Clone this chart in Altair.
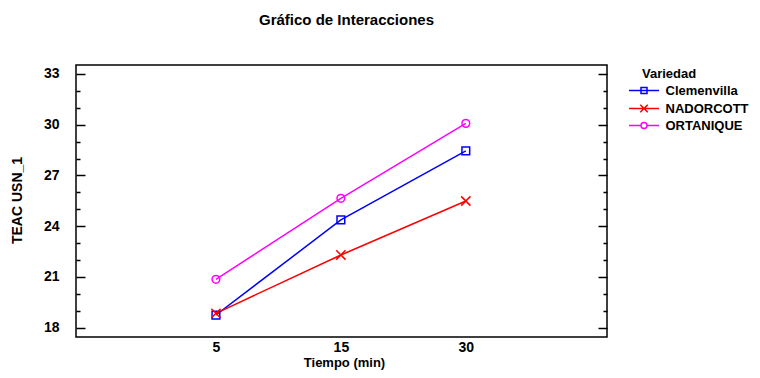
import json
import altair as alt
import pandas as pd

# ---- data ----
tiempos = ["5", "15", "30"]
variedades = ["Clemenvilla", "NADORCOTT", "ORTANIQUE"]
clemenvilla = [18.75, 24.37, 28.45]
nadorcott = [18.85, 22.30, 25.49]
ortanique = [20.86, 25.65, 30.08]
colores = ["#0000FF", "#FF0000", "#FF00FF"]
y_ticks = list(range(18, 34))

series = {"Clemenvilla": clemenvilla, "NADORCOTT": nadorcott, "ORTANIQUE": ortanique}
rows = []
for v in variedades:
    for i, t in enumerate(tiempos):
        rows.append({"Variedad": v, "Tiempo": t, "idx": i, "TEAC": series[v][i]})
df = pd.DataFrame(rows)

FONT = "Liberation Sans"

marker_paths = ["square", "M-1.2,-1.2L1.2,1.2M-1.2,1.2L1.2,-1.2", "circle"]
legend_paths = [
    "M-3,0H3M-0.6,-0.6H0.6V0.6H-0.6Z",
    "M-3,0H3M-0.75,-0.75L0.75,0.75M-0.75,0.75L0.75,-0.75",
    "M-3,0H-0.6M0.6,0H3M-0.6,0A0.6,0.6 0 1,0 0.6,0A0.6,0.6 0 1,0 -0.6,0",
]

y_scale = alt.Scale(domain=[17.45, 33.53], nice=False, zero=False)
x_scale = alt.Scale(domain=[-1.12, 3.13], nice=False, zero=False)

major_test = "datum.value % 3 === 0"
TICK = 9
tick_dash = {"condition": {"test": major_test, "value": [TICK, 0]}, "value": [0, TICK - 4, 4, 0]}

x_axis = alt.Axis(
    values=[0, 1, 2],
    labelExpr=f"{json.dumps(tiempos)}[datum.value]",
    ticks=False, domain=False, grid=False, labelPadding=3,
    title="Tiempo (min)", titleY=29.5, titleX=268, titleBaseline="alphabetic",
    titleFontSize=13,
)

left_axis = alt.Axis(
    orient="left", values=y_ticks, offset=-TICK,
    labelExpr=f"{major_test} ? datum.label : ''",
    tickSize=TICK, tickDash=tick_dash, labelPadding=17, domain=False, grid=False,
    title="TEAC USN_1", titleX=-63.3, titleY=135, titleAngle=270,
    titleAlign="center", titleBaseline="alphabetic",
)

right_axis = alt.Axis(
    orient="right", values=y_ticks, offset=-TICK, labels=False,
    tickSize=TICK, tickDash=tick_dash, domain=False, grid=False, title="",
)

legend = alt.Legend(
    title="Variedad", orient="none", legendX=566, legendY=3,
    symbolSize=100, symbolStrokeWidth=1.5, symbolOffset=-4.5, symbolOpacity=1,
    symbolFillColor="transparent",
    labelOffset=15, rowPadding=3, titlePadding=3, padding=0,
)

X = alt.X("idx:Q", scale=x_scale, axis=x_axis)

lines = alt.Chart(df).mark_line(strokeWidth=1.5).encode(
    x=X,
    y=alt.Y("TEAC:Q", scale=y_scale, axis=left_axis),
    color=alt.Color("Variedad:N", scale=alt.Scale(domain=variedades, range=colores), legend=None),
)

points = alt.Chart(df).mark_point(filled=False, size=60, strokeWidth=1.5, opacity=1).encode(
    x=X,
    y=alt.Y("TEAC:Q", scale=y_scale, axis=right_axis),
    color=alt.Color("Variedad:N", scale=alt.Scale(domain=variedades, range=colores), legend=None),
    shape=alt.Shape("Variedad:N", scale=alt.Scale(domain=variedades, range=marker_paths), legend=None),
)

legend_layer = alt.Chart(df).mark_point(filled=False, size=100, strokeWidth=1.5, opacity=0).encode(
    x=X,
    y=alt.Y("TEAC:Q", scale=y_scale, axis=None),
    color=alt.Color("Variedad:N", scale=alt.Scale(domain=variedades, range=colores), legend=legend),
    shape=alt.Shape("Variedad:N", scale=alt.Scale(domain=variedades, range=legend_paths), legend=legend),
)

chart = alt.layer(lines, points, legend_layer).resolve_axis(y="independent").resolve_scale(
    color="independent", shape="independent"
).properties(
    width=531, height=272,
    autosize="none",
    padding={"left": 68, "top": 57, "right": 145, "bottom": 33},
    background="white",
    title=alt.Title(
        "Gráfico de Interacciones", anchor="middle", frame="group",
        offset=25, baseline="alphabetic", dx=5,
        font=FONT, fontSize=15, fontWeight="bold", color="black",
    ),
).configure_axis(
    labelFont=FONT, labelFontWeight="bold", labelFontSize=14, labelColor="black",
    titleFont=FONT, titleFontWeight="bold", titleFontSize=14, titleColor="black",
    tickColor="black", tickWidth=1.5,
).configure_legend(
    titleFont=FONT, titleFontWeight="bold", titleFontSize=13, titleColor="black",
    labelFont=FONT, labelFontWeight="bold", labelFontSize=13, labelColor="black",
).configure_view(stroke="black", strokeWidth=1.5)

chart.save("out.html", embed_options={"renderer": "svg", "actions": False})
